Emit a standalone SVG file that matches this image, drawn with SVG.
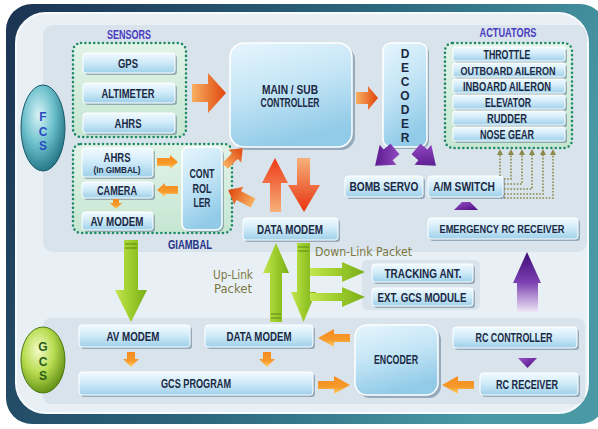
<svg xmlns="http://www.w3.org/2000/svg" width="598" height="429" viewBox="0 0 598 429">
<defs>
<linearGradient id="frameG" x1="0" y1="0" x2="1" y2="0.3">
<stop offset="0" stop-color="#1b3352"/><stop offset="0.6" stop-color="#2d6a80"/><stop offset="1" stop-color="#4a9aa6"/>
</linearGradient>
<linearGradient id="boxG" x1="0" y1="0" x2="0" y2="1">
<stop offset="0" stop-color="#f2faff"/><stop offset="0.45" stop-color="#d2ecf9"/><stop offset="1" stop-color="#9fd0ea"/>
</linearGradient>
<linearGradient id="bigG" x1="0" y1="0" x2="0.3" y2="1">
<stop offset="0" stop-color="#e6f5fd"/><stop offset="0.5" stop-color="#c4e5f6"/><stop offset="1" stop-color="#92cbe8"/>
</linearGradient>
<linearGradient id="greenBoxG" x1="0" y1="0" x2="0" y2="1">
<stop offset="0" stop-color="#e2f3e8"/><stop offset="1" stop-color="#c6e6d2"/>
</linearGradient>
<linearGradient id="orangeH" x1="0" y1="0" x2="1" y2="0">
<stop offset="0" stop-color="#f7b060"/><stop offset="1" stop-color="#e0440e"/>
</linearGradient>
<linearGradient id="orangeS" x1="0" y1="0" x2="0" y2="1">
<stop offset="0" stop-color="#f88a20"/><stop offset="0.6" stop-color="#f59a2a"/><stop offset="1" stop-color="#ffd070"/>
</linearGradient>
<linearGradient id="redUp" x1="0" y1="0" x2="0" y2="1">
<stop offset="0" stop-color="#ee3a16"/><stop offset="1" stop-color="#f6b07a"/>
</linearGradient>
<linearGradient id="redDown" x1="0" y1="0" x2="0" y2="1">
<stop offset="0" stop-color="#f6b07a"/><stop offset="1" stop-color="#e8320e"/>
</linearGradient>
<linearGradient id="greenA" x1="0" y1="0" x2="1" y2="0">
<stop offset="0" stop-color="#c4e650"/><stop offset="0.5" stop-color="#9ccc2c"/><stop offset="1" stop-color="#7aae18"/>
</linearGradient>
<linearGradient id="purpleUp" x1="0" y1="0" x2="0" y2="1">
<stop offset="0" stop-color="#3e0c78"/><stop offset="0.5" stop-color="#7a40b0"/><stop offset="1" stop-color="#efe6f6"/>
</linearGradient>
<linearGradient id="purpleG" x1="0" y1="0" x2="1" y2="1">
<stop offset="0" stop-color="#9a50c8"/><stop offset="1" stop-color="#4a0c80"/>
</linearGradient>
<radialGradient id="fcsG" cx="0.4" cy="0.35" r="0.7">
<stop offset="0" stop-color="#d8f2f6"/><stop offset="0.5" stop-color="#6cc0cc"/><stop offset="1" stop-color="#1e6e80"/>
</radialGradient>
<radialGradient id="gcsG" cx="0.4" cy="0.35" r="0.7">
<stop offset="0" stop-color="#f2fbc8"/><stop offset="0.5" stop-color="#b8dc50"/><stop offset="1" stop-color="#5a8a10"/>
</radialGradient>
<style>
.sh{fill:#5d7c94;opacity:0.55}
.box{fill:url(#boxG);stroke:#ffffff;stroke-width:1}
.big{fill:url(#bigG);stroke:#ffffff;stroke-width:1.5}
.dot{fill:url(#greenBoxG);stroke:#1f8a66;stroke-width:2.6;stroke-dasharray:0 4.4;stroke-linecap:round}
.t{font-family:"Liberation Sans","Arial",sans-serif;font-weight:bold;font-size:12px;fill:#1b2944;text-anchor:middle}
.ts{font-family:"Liberation Sans","Arial",sans-serif;font-weight:bold;font-size:9px;fill:#1b2944;text-anchor:middle}
.lab{font-family:"Liberation Sans","Arial",sans-serif;font-weight:bold;font-size:12px;text-anchor:middle}
.pk{font-family:"DejaVu Sans","Liberation Sans",sans-serif;font-size:11.5px;fill:#7b7844}
.og{fill:url(#orangeS)}
.oh{fill:url(#orangeH)}
.gr{fill:url(#greenA)}
.pu{fill:url(#purpleG)}
.dl{fill:none;stroke:#8a8a4a;stroke-width:1.6;stroke-dasharray:1.6 1.6}
</style>
</defs>

<!-- frame -->
<rect x="6" y="4" width="600" height="420" rx="26" fill="url(#frameG)"/>
<rect x="16" y="13" width="572" height="400" rx="30" fill="#e8f0f5" stroke="#f8fbfd" stroke-width="2"/>

<!-- panels -->
<rect x="43" y="25" width="544" height="227" rx="10" fill="#d9e3eb"/>
<rect x="43" y="318" width="542" height="86" rx="8" fill="#d9e3eb"/>
<rect x="362" y="260" width="118" height="50" rx="5" fill="#d9e3eb"/>

<g id="fcs">
<ellipse cx="43" cy="128" rx="22" ry="43" fill="url(#fcsG)" stroke="#1a5a6a" stroke-width="1"/>
<text class="lab" x="43" y="121" fill="#2a4cc0">F</text>
<text class="lab" x="43" y="136" fill="#2a4cc0">C</text>
<text class="lab" x="43" y="150" fill="#2a4cc0">S</text>
</g>
<g id="gcs">
<ellipse cx="43" cy="360" rx="22" ry="33" fill="url(#gcsG)" stroke="#4a7a10" stroke-width="1"/>
<text class="lab" x="43" y="351" fill="#285c18">G</text>
<text class="lab" x="43" y="366" fill="#285c18">C</text>
<text class="lab" x="43" y="380" fill="#285c18">S</text>
</g>

<!-- sensors -->
<g id="sensors">
<text class="lab" x="129" y="39" fill="#4a3cc0" textLength="44" lengthAdjust="spacingAndGlyphs">SENSORS</text>
<rect class="dot" x="73" y="43" width="113" height="94" rx="8"/>
</g>
<g id="gps"><rect class="sh" x="85" y="55" width="92" height="20" rx="3"/><rect class="box" x="83" y="53" width="92" height="20" rx="3"/><text class="t" x="128" y="67.5" textLength="20" lengthAdjust="spacingAndGlyphs">GPS</text></g>
<g id="altimeter"><rect class="sh" x="85" y="85" width="92" height="20" rx="3"/><rect class="box" x="83" y="83" width="92" height="20" rx="3"/><text class="t" x="128" y="97.5" textLength="53" lengthAdjust="spacingAndGlyphs">ALTIMETER</text></g>
<g id="ahrs"><rect class="sh" x="85" y="115" width="92" height="20" rx="3"/><rect class="box" x="83" y="113" width="92" height="20" rx="3"/><text class="t" x="128" y="127.5" textLength="27" lengthAdjust="spacingAndGlyphs">AHRS</text></g>

<!-- gimbal -->
<g id="giambal">
<rect class="dot" x="73" y="144" width="159" height="89" rx="8"/>
<text class="lab" x="190" y="249" fill="#26348a" textLength="44" lengthAdjust="spacingAndGlyphs">GIAMBAL</text>
</g>
<g id="ahrs-gimbal"><rect class="sh" x="84" y="150" width="71" height="29" rx="3"/><rect class="box" x="82" y="148" width="71" height="29" rx="3"/><text class="t" x="117" y="161.5" textLength="27" lengthAdjust="spacingAndGlyphs">AHRS</text><text class="ts" x="117" y="173" textLength="47" lengthAdjust="spacingAndGlyphs">(In GIMBAL)</text></g>
<g id="camera"><rect class="sh" x="84" y="184" width="71" height="16" rx="3"/><rect class="box" x="82" y="182" width="71" height="16" rx="3"/><text class="t" x="117" y="194.5" textLength="40" lengthAdjust="spacingAndGlyphs">CAMERA</text></g>
<g id="av-modem-air"><rect class="sh" x="84" y="214" width="71" height="18" rx="3"/><rect class="box" x="82" y="212" width="71" height="18" rx="3"/><text class="t" x="117" y="225.5" textLength="53" lengthAdjust="spacingAndGlyphs">AV MODEM</text></g>
<g id="gimbal-controller"><rect class="sh" x="184" y="149" width="40" height="83" rx="6"/><rect class="big" x="182" y="147" width="40" height="83" rx="6"/><text class="t" x="202" y="177.5" textLength="25" lengthAdjust="spacingAndGlyphs">CONT</text><text class="t" x="202" y="192.5" textLength="19" lengthAdjust="spacingAndGlyphs">ROL</text><text class="t" x="202" y="206.5" textLength="17" lengthAdjust="spacingAndGlyphs">LER</text></g>

<!-- main -->
<g id="main-controller"><rect class="sh" x="233" y="46" width="122" height="104" rx="14"/><rect class="big" x="230" y="43" width="122" height="104" rx="14"/><text class="t" x="290" y="93.5" textLength="56" lengthAdjust="spacingAndGlyphs">MAIN / SUB</text><text class="t" x="290" y="107" textLength="59" lengthAdjust="spacingAndGlyphs">CONTROLLER</text></g>

<g id="decoder"><rect class="sh" x="385" y="45" width="44" height="104" rx="8"/><rect class="big" x="383" y="43" width="44" height="104" rx="8"/>
<text class="t" x="405" y="57.5">D</text><text class="t" x="405" y="71.5">E</text><text class="t" x="405" y="85.5">C</text><text class="t" x="405" y="99.5">O</text><text class="t" x="405" y="113.5">D</text><text class="t" x="405" y="127.5">E</text><text class="t" x="405" y="141.5">R</text></g>

<!-- actuators -->
<g id="actuators">
<text class="lab" x="508" y="37" fill="#4a3cc0" textLength="57" lengthAdjust="spacingAndGlyphs">ACTUATORS</text>
<rect class="dot" x="445" y="43" width="127" height="105" rx="8"/>
</g>
<g id="throttle"><rect class="sh" x="455" y="49" width="112" height="14" rx="2"/><rect class="box" x="453" y="47" width="112" height="14" rx="2"/><text class="t" x="507" y="58.5" textLength="47" lengthAdjust="spacingAndGlyphs">THROTTLE</text></g>
<g id="outboard-aileron"><rect class="sh" x="455" y="65" width="112" height="14" rx="2"/><rect class="box" x="453" y="63" width="112" height="14" rx="2"/><text class="t" x="508" y="74.5" style="font-size:11px" textLength="95" lengthAdjust="spacingAndGlyphs">OUTBOARD AILERON</text></g>
<g id="inboard-aileron"><rect class="sh" x="455" y="81" width="112" height="14" rx="2"/><rect class="box" x="453" y="79" width="112" height="14" rx="2"/><text class="t" x="507" y="90.5" textLength="88" lengthAdjust="spacingAndGlyphs">INBOARD AILERON</text></g>
<g id="elevator"><rect class="sh" x="455" y="97" width="112" height="14" rx="2"/><rect class="box" x="453" y="95" width="112" height="14" rx="2"/><text class="t" x="508" y="106.5" textLength="46" lengthAdjust="spacingAndGlyphs">ELEVATOR</text></g>
<g id="rudder"><rect class="sh" x="455" y="113" width="112" height="14" rx="2"/><rect class="box" x="453" y="111" width="112" height="14" rx="2"/><text class="t" x="507" y="122.5" textLength="40" lengthAdjust="spacingAndGlyphs">RUDDER</text></g>
<g id="nose-gear"><rect class="sh" x="455" y="129" width="112" height="14" rx="2"/><rect class="box" x="453" y="127" width="112" height="14" rx="2"/><text class="t" x="507" y="138.5" textLength="54" lengthAdjust="spacingAndGlyphs">NOSE GEAR</text></g>

<g id="bomb-servo"><rect class="sh" x="347" y="178" width="78" height="21" rx="3"/><rect class="box" x="345" y="176" width="78" height="21" rx="3"/><text class="t" x="384" y="191" textLength="69" lengthAdjust="spacingAndGlyphs">BOMB SERVO</text></g>
<g id="am-switch"><rect class="sh" x="430" y="178" width="75" height="21" rx="3"/><rect class="box" x="428" y="176" width="75" height="21" rx="3"/><text class="t" x="464" y="191" textLength="62" lengthAdjust="spacingAndGlyphs">A/M SWITCH</text></g>
<g id="emergency-rc-receiver"><rect class="sh" x="430" y="220" width="150" height="21" rx="3"/><rect class="box" x="428" y="218" width="150" height="21" rx="3"/><text class="t" x="502" y="233" style="font-size:10.5px" textLength="125" lengthAdjust="spacingAndGlyphs">EMERGENCY RC RECEIVER</text></g>
<g id="data-modem-air"><rect class="sh" x="245" y="220" width="95" height="22" rx="3"/><rect class="box" x="243" y="218" width="95" height="22" rx="3"/><text class="t" x="290" y="233.5" textLength="66" lengthAdjust="spacingAndGlyphs">DATA MODEM</text></g>

<g id="tracking-ant"><rect class="sh" x="374" y="266" width="101" height="18" rx="3"/><rect class="box" x="372" y="264" width="101" height="18" rx="3"/><text class="t" x="423" y="277.5" textLength="77" lengthAdjust="spacingAndGlyphs">TRACKING ANT.</text></g>
<g id="ext-gcs-module"><rect class="sh" x="374" y="290" width="101" height="18" rx="3"/><rect class="box" x="372" y="288" width="101" height="18" rx="3"/><text class="t" x="422" y="301.5" textLength="89" lengthAdjust="spacingAndGlyphs">EXT. GCS MODULE</text></g>

<!-- GCS -->
<g id="av-modem-gcs"><rect class="sh" x="81" y="327" width="111" height="22" rx="3"/><rect class="box" x="79" y="325" width="111" height="22" rx="3"/><text class="t" x="133" y="340.5" textLength="53" lengthAdjust="spacingAndGlyphs">AV MODEM</text></g>
<g id="data-modem-gcs"><rect class="sh" x="207" y="327" width="108" height="22" rx="3"/><rect class="box" x="205" y="325" width="108" height="22" rx="3"/><text class="t" x="259" y="340.5" textLength="65" lengthAdjust="spacingAndGlyphs">DATA MODEM</text></g>
<g id="gcs-program"><rect class="sh" x="81" y="374" width="234" height="23" rx="3"/><rect class="box" x="79" y="372" width="234" height="23" rx="3"/><text class="t" x="196" y="388" textLength="70" lengthAdjust="spacingAndGlyphs">GCS PROGRAM</text></g>
<g id="encoder"><rect class="sh" x="358" y="328" width="83" height="70" rx="12"/><rect class="big" x="355" y="325" width="83" height="70" rx="12"/><text class="t" x="396" y="363.5" textLength="44" lengthAdjust="spacingAndGlyphs">ENCODER</text></g>
<g id="rc-controller"><rect class="sh" x="455" y="329" width="124" height="21" rx="3"/><rect class="box" x="453" y="327" width="124" height="21" rx="3"/><text class="t" x="514" y="342" textLength="77" lengthAdjust="spacingAndGlyphs">RC CONTROLLER</text></g>
<g id="rc-receiver"><rect class="sh" x="482" y="375" width="98" height="22" rx="3"/><rect class="box" x="480" y="373" width="98" height="22" rx="3"/><text class="t" x="527" y="388.5" textLength="62" lengthAdjust="spacingAndGlyphs">RC RECEIVER</text></g>

<!-- connectors -->
<g id="connectors">
<polygon class="oh" points="192,84 208,84 208,73 226,93 208,113 208,102 192,102"/>
<polygon class="oh" points="356,92 368,92 368,86 378,98 368,110 368,104 356,104"/>
<polygon fill="url(#redUp)" points="270,212 270,183 262,183 275,158 288,183 281,183 281,212"/>
<polygon fill="url(#redDown)" points="297,158 310,158 310,185 320,185 304,212 288,185 297,185"/>
<g transform="translate(225,166) rotate(-45)"><polygon class="oh" points="0,-4 14,-4 14,-9 25,0 14,9 14,4 0,4"/></g>
<g transform="translate(253,203) rotate(207.5)"><polygon class="oh" points="0,-5 16,-5 16,-10 28,0 16,10 16,5 0,5"/></g>
<polygon class="og" points="157,158 170,158 170,155 178,162 170,169 170,166 157,166"/>
<polygon class="og" points="178,186 165,186 165,183 157,190 165,197 165,194 178,194"/>
<polygon class="og" points="113,199 119,199 119,203 122,203 116,209 110,203 113,203"/>

<g transform="translate(395,149) rotate(140)"><polygon class="pu" points="0,-7 9,-7 9,-13 26,0 9,13 9,7 0,7"/></g>
<g transform="translate(416,149) rotate(40)"><polygon class="pu" points="0,-7 9,-7 9,-13 26,0 9,13 9,7 0,7"/></g>
<polygon class="pu" points="462,202 470,202 478,210 454,210"/>

<!-- A/M switch dotted links to actuators -->
<path class="dl" d="M500,176 V153 M504,179 H511 V153 M504,184 H522 V153 M504,189 H532 V153 M504,194 H543 V153 M504,198 H553 V153"/>
<g fill="#8a8a4a">
<polygon points="500,149 503,155 497,155"/><polygon points="511,149 514,155 508,155"/><polygon points="522,149 525,155 519,155"/>
<polygon points="532,149 535,155 529,155"/><polygon points="543,149 546,155 540,155"/><polygon points="553,149 556,155 550,155"/>
</g>

<!-- green data links -->
<polygon class="gr" points="124,240 138,240 138,290 147,290 131,322 115,290 124,290"/>
<path d="M125,244 H137 M125,248 H137" stroke="#5a8a10" stroke-width="1.2"/>
<polygon class="gr" points="270,322 270,273 263,273 276,243 289,273 282,273 282,322"/>
<path d="M271,314 H281 M271,318 H281" stroke="#5a8a10" stroke-width="1.2"/>
<polygon class="gr" points="297,243 310,243 310,292 316,292 303.5,322 291,292 297,292"/>
<path d="M298,247 H309 M298,251 H309" stroke="#5a8a10" stroke-width="1.2"/>
<polygon class="gr" points="310,268 342,268 342,262 365,272 342,282 342,276 310,276"/>
<polygon class="gr" points="310,293 342,293 342,287 365,297 342,307 342,301 310,301"/>
<text class="pk" x="315" y="256" textLength="97" lengthAdjust="spacingAndGlyphs">Down-Link Packet</text>
<text class="pk" x="233" y="279" text-anchor="middle" textLength="40" lengthAdjust="spacingAndGlyphs">Up-Link</text>
<text class="pk" x="233" y="293" text-anchor="middle" textLength="38" lengthAdjust="spacingAndGlyphs">Packet</text>

<polygon fill="url(#purpleUp)" points="517,312 517,283 513,283 527,252 541,283 538,283 538,312"/>

<polygon class="og" points="127,352 135,352 135,359 139,359 131,367 123,359 127,359"/>
<polygon class="og" points="263,352 271,352 271,359 275,359 267,367 259,359 263,359"/>
<polygon class="og" points="350,334 334,334 334,329 318,338 334,347 334,342 350,342"/>
<polygon class="og" points="318,381 334,381 334,376 350,385 334,394 334,389 318,389"/>
<polygon class="og" points="474,381 458,381 458,376 442,385 458,394 458,389 474,389"/>
<polygon class="pu" points="518,358 537,358 527.5,368"/>
</g>
</svg>
